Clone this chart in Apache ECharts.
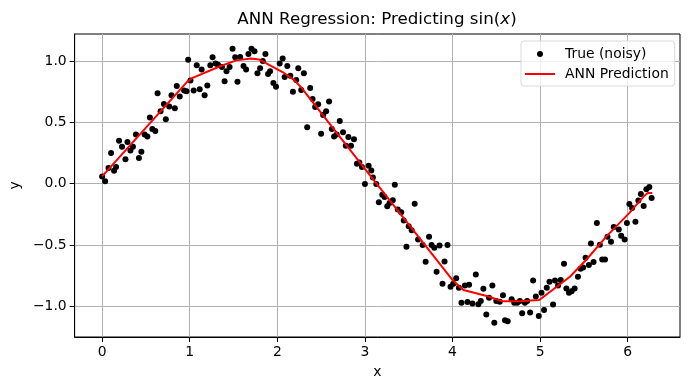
<!DOCTYPE html>
<html>
<head>
<meta charset="utf-8">
<script src="https://cdn.jsdelivr.net/npm/echarts@6/dist/echarts.min.js"></script>
<style>
html,body{margin:0;padding:0;background:#fff;}
#main{width:690px;height:390px;}
</style>
</head>
<body>
<div id="main"></div>
<script>
// ---- data ----
const noisyX = [0.000,0.034,0.073,0.102,0.136,0.159,0.193,0.227,0.266,0.289,0.323,0.352,0.386,0.420,0.448,0.485,0.516,0.545,0.573,0.607,0.633,0.667,0.705,0.727,0.766,0.792,0.830,0.852,0.886,0.936,0.963,0.982,
1.008,1.045,1.080,1.114,1.136,1.170,1.201,1.235,1.261,1.295,1.323,1.368,1.398,1.420,1.455,1.489,1.519,1.545,1.576,1.614,1.644,1.670,1.705,1.739,1.773,1.803,1.834,1.864,1.894,1.917,1.955,1.985,2.027,2.061,2.084,
2.114,2.148,2.178,2.216,2.239,2.273,2.303,2.341,2.375,2.402,2.432,2.466,2.500,2.523,2.557,2.591,2.622,2.648,2.678,2.713,2.750,2.781,2.811,2.841,2.875,2.909,2.936,2.966,3.000,3.042,3.073,3.091,3.130,
3.159,3.198,3.224,3.255,3.281,3.318,3.341,3.375,3.414,3.443,3.474,3.500,3.534,3.568,3.607,3.659,3.693,3.732,3.761,3.792,3.818,3.852,3.886,3.909,3.943,3.977,4.008,4.042,4.073,4.102,4.141,4.170,4.189,
4.227,4.266,4.295,4.323,4.352,4.386,4.417,4.455,4.477,4.500,4.539,4.576,4.599,4.630,4.675,4.705,4.739,4.769,4.795,4.826,4.852,4.886,4.920,4.951,4.985,5.016,5.045,5.076,5.107,5.148,
5.170,5.205,5.235,5.273,5.300,5.330,5.360,5.394,5.432,5.462,5.491,5.519,5.557,5.580,5.610,5.648,5.682,5.709,5.741,5.769,5.809,5.841,5.898,5.925,5.965,5.991,6.019,6.050,6.088,6.122,6.150,6.182,6.213,6.247,6.273];
const noisyY = [0.059,0.019,0.128,0.25,0.106,0.136,0.35,0.30,0.20,0.34,0.27,0.30,0.40,0.21,0.26,0.40,0.385,0.54,0.445,0.43,0.737,0.59,0.65,0.526,0.63,0.72,0.615,0.797,0.71,0.76,0.754,1.01,
0.84,0.76,0.965,0.77,0.93,0.72,0.80,0.965,1.03,0.98,0.97,0.95,0.835,0.916,0.95,1.10,1.03,0.83,1.033,0.96,0.93,1.057,1.10,1.08,0.90,0.94,1.0,1.057,0.894,0.916,0.82,0.79,0.98,1.02,0.87,
0.96,0.88,0.75,0.845,0.94,0.764,0.90,0.46,0.78,0.69,0.624,0.648,0.407,0.56,0.59,0.67,0.445,0.385,0.40,0.51,0.42,0.31,0.38,0.31,0.363,0.163,0.173,0.136,-0.003,0.146,0.108,0.051,-0.003,
-0.152,-0.09,-0.108,-0.184,-0.157,-0.136,-0.008,-0.21,-0.233,-0.30,-0.515,-0.347,-0.38,-0.163,-0.455,-0.50,-0.637,-0.433,-0.50,-0.523,-0.718,-0.504,-0.815,-0.634,-0.50,-0.84,-0.815,-0.772,-0.848,-0.97,-0.83,-0.965,-0.824,
-0.976,-0.74,-0.984,-0.957,-0.856,-1.067,-0.93,-0.83,-1.133,-0.957,-0.962,-0.91,-1.114,-1.122,-0.943,-0.97,-0.97,-0.957,-1.057,-0.97,-0.957,-1.051,-0.79,-0.92,-1.079,-0.889,-1.03,-0.848,-0.80,-0.986,
-0.79,-0.83,-0.785,-0.653,-0.854,-0.889,-0.878,-0.854,-0.759,-0.693,-0.683,-0.604,-0.663,-0.488,-0.638,-0.32,-0.498,-0.618,-0.618,-0.433,-0.474,-0.354,-0.374,-0.425,-0.455,-0.32,-0.165,-0.198,-0.311,-0.138,-0.084,-0.183,-0.045,-0.027,-0.116];
const predX = [0.00,0.97,1.04,1.34,1.53,1.70,1.79,2.06,2.19,2.27,3.00,4.01,4.125,4.39,4.57,4.76,4.99,5.34,5.53,5.76,6.02,6.19,6.23,6.28];
const predY = [0.06,0.83,0.865,0.955,1.005,1.02,1.013,0.91,0.846,0.786,0.12,-0.794,-0.867,-0.916,-0.958,-0.959,-0.949,-0.759,-0.618,-0.428,-0.238,-0.098,-0.076,-0.076];
const xTicks = [0,1,2,3,4,5,6];
const yTicks = [-1.0,-0.5,0.0,0.5,1.0];

const noisyData = noisyX.map((x,i)=>[x,noisyY[i]]);
const predData = predX.map((x,i)=>[x,predY[i]]);

const FONT = 'DejaVu Sans';
const fmtY = v => (v < 0 ? '\u2212' : '') + Math.abs(v).toFixed(1);

const chart = echarts.init(document.getElementById('main'), null, {renderer:'canvas'});
chart.setOption({
  animation:false,
  backgroundColor:'#fff',
  textStyle:{fontFamily:FONT},
  title:{
    text:'{n|ANN Regression: Predicting sin(}{i|x}{n|)}',
    left:377, top:11, textAlign:'center',
    padding:0,
    textStyle:{
      fontWeight:'normal',
      rich:{
        n:{fontFamily:FONT,fontSize:16.7,fontWeight:'normal',color:'#000'},
        i:{fontFamily:FONT,fontSize:16.7,fontWeight:'normal',fontStyle:'italic',color:'#000'}
      }
    }
  },
  legend:{
    orient:'vertical',
    left:521, top:41,
    padding:[6,6,5,3],
    itemGap:6,
    itemWidth:30, itemHeight:6,
    borderColor:'#d9d9d9', borderWidth:1, borderRadius:3,
    backgroundColor:'rgba(255,255,255,0.8)',
    textStyle:{fontFamily:FONT,fontSize:13.9,color:'#000',padding:[0,0,0,5]},
    data:[
      {name:'True (noisy)', icon:'circle'},
      {name:'ANN Prediction', itemStyle:{opacity:0}}
    ]
  },
  grid:{
    left:73, right:10, top:34, bottom:53,
    show:true, borderColor:'#000', borderWidth:1, backgroundColor:'transparent'
  },
  xAxis:{
    type:'value', min:-0.314, max:6.597,
    name:'x', nameLocation:'middle', nameGap:28,
    nameTextStyle:{fontFamily:FONT,fontSize:13.9,color:'#000'},
    axisLine:{show:true,onZero:false,lineStyle:{color:'#000',width:1}},
    axisTick:{show:true,inside:false,length:5,lineStyle:{color:'#000',width:1},customValues:xTicks},
    axisLabel:{fontFamily:FONT,fontSize:13.9,color:'#000',margin:8,customValues:xTicks,formatter:v=>String(v)},
    splitLine:{show:true,lineStyle:{color:'#b0b0b0',width:1}}
  },
  yAxis:{
    type:'value', min:-1.25, max:1.22,
    name:'y', nameLocation:'middle', nameGap:50,
    nameTextStyle:{fontFamily:FONT,fontSize:13.9,color:'#000'},
    axisLine:{show:true,onZero:false,lineStyle:{color:'#000',width:1}},
    axisTick:{show:true,inside:false,length:5,lineStyle:{color:'#000',width:1},customValues:yTicks},
    axisLabel:{fontFamily:FONT,fontSize:13.9,color:'#000',margin:8,customValues:yTicks,formatter:fmtY},
    splitLine:{show:true,lineStyle:{color:'#b0b0b0',width:1}}
  },
  series:[
    {
      name:'True (noisy)', type:'scatter', data:noisyData,
      symbol:'circle', symbolSize:6,
      itemStyle:{color:'#000',opacity:1}
    },
    {
      name:'ANN Prediction', type:'line', data:predData,
      showSymbol:false, symbol:'none',
      lineStyle:{color:'#ff0000',width:2},
      itemStyle:{color:'#ff0000'}
    }
  ]
});
</script>
</body>
</html>
